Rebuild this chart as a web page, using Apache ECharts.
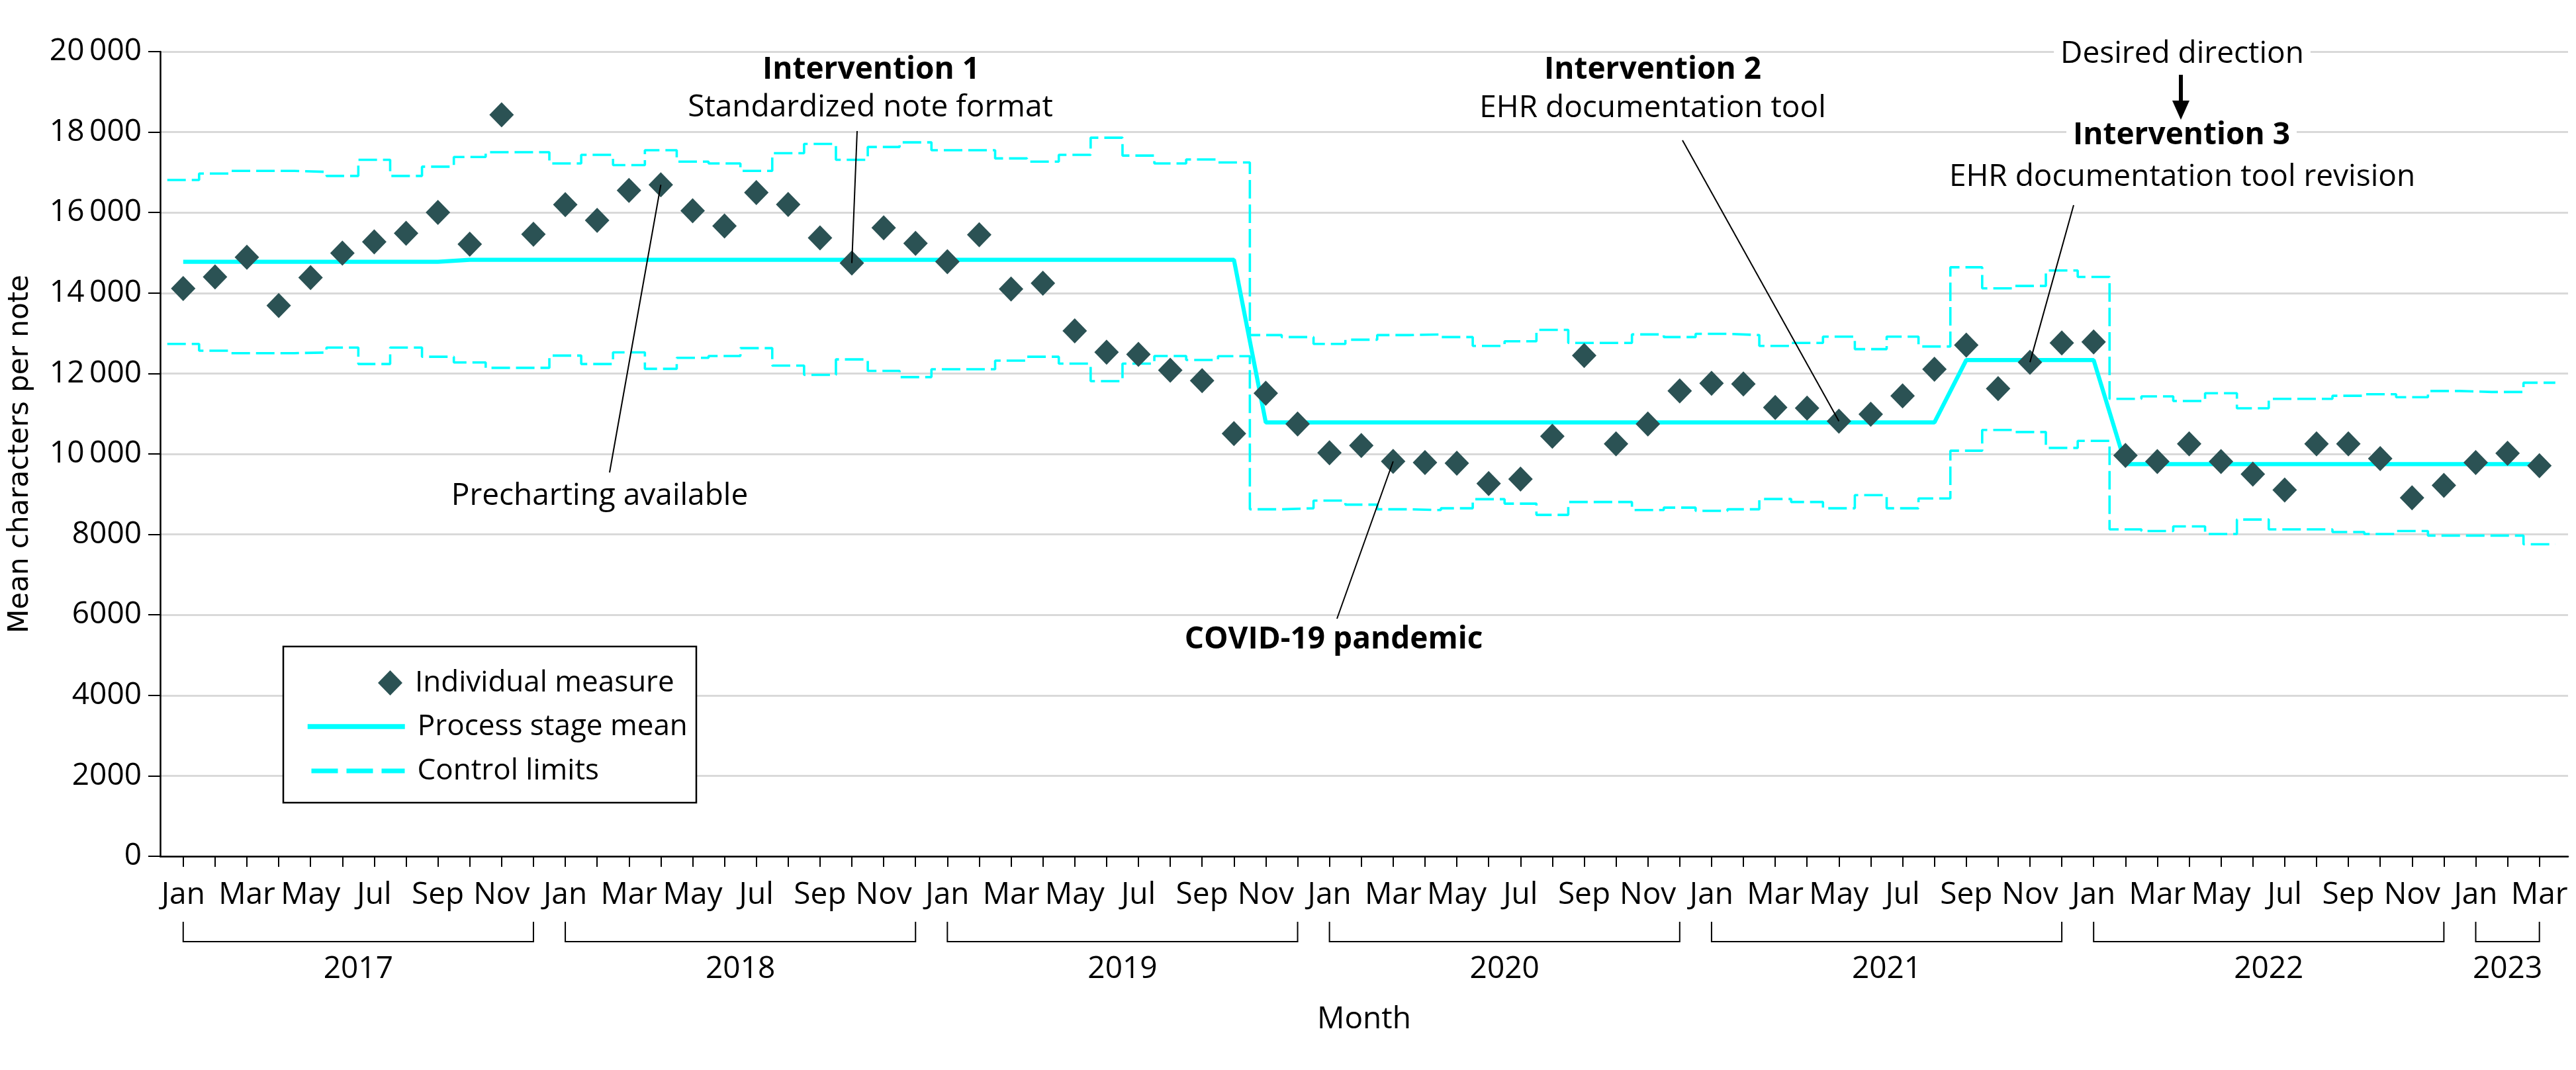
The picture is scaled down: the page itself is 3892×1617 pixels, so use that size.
<!DOCTYPE html>
<html>
<head>
<meta charset="utf-8">
<script src="https://cdn.jsdelivr.net/npm/echarts@6/dist/echarts.min.js"></script>
<style>
html,body{margin:0;padding:0;background:#fff;}
#chart{width:3892px;height:1617px;}
</style>
</head>
<body>
<div id="chart"></div>
<script>
// ---------- DATA ----------
const monthAbbr = ['Jan','Feb','Mar','Apr','May','Jun','Jul','Aug','Sep','Oct','Nov','Dec'];
const years = [2017, 2018, 2019, 2020, 2021, 2022, 2023];

const individualMeasure = [
  14110, 14400, 14890, 13690, 14385, 14990, 15270, 15485, 16005, 15215, 18430, 15460,
  16195, 15805, 16550, 16690, 16045, 15665, 16495, 16200, 15370, 14745, 15620, 15235,
  14780, 15450, 14100, 14245, 13060, 12530, 12475, 12080, 11820, 10505, 11510, 10745,
  10030, 10210,  9815,  9785,  9770,  9265,  9375, 10440, 12445, 10250, 10745, 11565,
  11755, 11740, 11155, 11140, 10815, 10985, 11445, 12105, 12705, 11625, 12280, 12760,
  12785,  9965,  9810, 10250,  9810,  9500,  9105, 10250, 10250,  9885,  8910,  9220,
   9785, 10015,  9710
];

const processStageMean = [
  14777, 14777, 14777, 14777, 14777, 14777, 14777, 14777, 14777, 14824, 14824, 14824,
  14824, 14824, 14824, 14824, 14824, 14824, 14824, 14824, 14824, 14824, 14824, 14824,
  14824, 14824, 14824, 14824, 14824, 14824, 14824, 14824, 14824, 14824, 10782, 10782,
  10782, 10782, 10782, 10782, 10782, 10782, 10782, 10782, 10782, 10782, 10782, 10782,
  10782, 10782, 10782, 10782, 10782, 10782, 10782, 10782, 12335, 12335, 12335, 12335,
  12335,  9746,  9746,  9746,  9746,  9746,  9746,  9746,  9746,  9746,  9746,  9746,
   9746,  9746,  9746
];

const upperControlLimit = [
  16810, 16970, 17035, 17035, 17010, 16910, 17310, 16910, 17140, 17380, 17500, 17500,
  17220, 17435, 17180, 17550, 17265, 17220, 17035, 17475, 17705, 17310, 17630, 17745,
  17550, 17550, 17345, 17265, 17435, 17860, 17415, 17220, 17320, 17245, 12955, 12905,
  12735, 12840, 12955, 12970, 12905, 12685, 12800, 13085, 12760, 12760, 12970, 12905,
  12985, 12955, 12685, 12760, 12915, 12605, 12915, 12670, 14640, 14115, 14175, 14560,
  14400, 11370, 11430, 11315, 11510, 11135, 11370, 11370, 11445, 11485, 11410, 11565,
  11540, 11540, 11770
];

const lowerControlLimit = [
  12735, 12565, 12505, 12505, 12520, 12645, 12235, 12645, 12415, 12275, 12140, 12140,
  12445, 12235, 12525, 12115, 12390, 12435, 12630, 12195, 11965, 12350, 12065, 11910,
  12105, 12105, 12320, 12415, 12245, 11810, 12245, 12435, 12335, 12430,  8625,  8650,
   8840,  8740,  8625,  8605,  8650,  8875,  8765,  8485,  8805,  8805,  8605,  8665,
   8585,  8625,  8880,  8805,  8650,  8975,  8650,  8895, 10080, 10595, 10545, 10150,
  10325,  8125,  8085,  8200,  8010,  8370,  8125,  8125,  8060,  8010,  8085,  7970,
   7970,  7970,  7755
];

const annotatedMonth = {
  precharting: 'Apr 2018',
  intervention1: 'Oct 2018',
  covid: 'Mar 2020',
  intervention2: 'May 2021',
  intervention3: 'Nov 2021'
};

// ---------- DERIVED ----------
const months = individualMeasure.map((_, i) => monthAbbr[i % 12] + ' ' + (years[0] + Math.floor(i / 12)));
const monthIdx = name => months.indexOf(name);
const yearSpans = years.map(y => {
  const ids = months.map((m, i) => m.endsWith(' ' + y) ? i : -1).filter(i => i >= 0);
  return { label: String(y), start: ids[0], end: ids[ids.length - 1] };
});
const stepData = arr => arr.flatMap((v, i) => [[i - 0.5, v], [i + 0.5, v]]);
const pointOf = name => { const i = monthIdx(name); return [i, individualMeasure[i]]; };

// ---------- STYLE ----------
const FONT = '"Open Sans", "Noto Sans", sans-serif';
const CYAN = '#00ffff';
const DOT = '#2b5254';

const chart = echarts.init(document.getElementById('chart'), null, { renderer: 'canvas' });

const leader = (x, y, name) => [{ x: x, y: y }, { coord: pointOf(name) }];

const txt = (text, x, y, bold, bg) => ({
  type: 'text', x: x, y: y, z: 10,
  style: Object.assign({
    text: text,
    font: (bold ? 'bold ' : '') + '46px ' + FONT,
    fill: '#000', align: 'center', verticalAlign: 'middle'
  }, bg ? { backgroundColor: '#fff', padding: [2, 10, 2, 10] } : {})
});

const legendText = { fontSize: 44, color: '#000', fontFamily: FONT, padding: [0, 0, 0, 14] };

const option = {
  animation: false,
  backgroundColor: '#fff',
  textStyle: { fontFamily: FONT },
  grid: { left: 242, right: 12, top: 78, bottom: 323, containLabel: false },
  xAxis: {
    type: 'value', min: -0.723, max: 74.9,
    name: 'Month', nameLocation: 'middle', nameGap: 224,
    nameTextStyle: { fontSize: 46, color: '#000', fontFamily: FONT },
    axisLine: { show: true, onZero: false, lineStyle: { color: '#000', width: 2.5 } },
    axisTick: { show: true, customValues: months.map((_, i) => i), length: 16, lineStyle: { color: '#000', width: 2 } },
    axisLabel: {
      show: true,
      customValues: months.map((_, i) => i).filter(i => i % 2 === 0),
      formatter: v => monthAbbr[Math.round(v) % 12],
      fontSize: 46, color: '#000', margin: 36, fontFamily: FONT
    },
    splitLine: { show: false }
  },
  yAxis: {
    type: 'value', min: 0, max: 20000, interval: 2000,
    name: 'Mean characters per note', nameLocation: 'middle', nameRotate: 90, nameGap: 190,
    nameTextStyle: { fontSize: 42, color: '#000', fontFamily: '"DejaVu Sans", sans-serif' },
    axisLine: { show: true, onZero: false, lineStyle: { color: '#000', width: 2.5 } },
    axisTick: { show: true, length: 18, lineStyle: { color: '#000', width: 2 } },
    axisLabel: {
      fontSize: 46, color: '#000', margin: 28, fontFamily: FONT,
      formatter: v => v >= 10000 ? Math.floor(v / 1000) + '\u2009' + String(v % 1000).padStart(3, '0') : String(v)
    },
    splitLine: { show: true, lineStyle: { color: '#d9d9d9', width: 3 } }
  },
  legend: [
    {
      data: ['Individual measure'], left: 571, top: 1010, padding: 0,
      itemWidth: 37, itemHeight: 38, selectedMode: false,
      textStyle: legendText
    },
    {
      data: ['Process stage mean'], left: 461, top: 1076, padding: 0,
      itemWidth: 147, itemHeight: 38, selectedMode: false,
      itemStyle: { opacity: 0, color: 'transparent', borderWidth: 0 },
      lineStyle: { width: 7.5, color: CYAN, opacity: 1 },
      textStyle: legendText
    },
    {
      data: ['Control limits'], left: 467, top: 1143, padding: 0,
      itemWidth: 141, itemHeight: 38, selectedMode: false,
      itemStyle: { opacity: 0, color: 'transparent', borderWidth: 0 },
      lineStyle: { width: 7, color: CYAN, opacity: 1, type: [40, 13] },
      textStyle: legendText
    }
  ],
  series: [
    {
      name: 'Control limits', type: 'line', data: stepData(upperControlLimit),
      symbol: 'none', silent: true, z: 2,
      lineStyle: { color: CYAN, width: 3.6, type: [28, 9] },
      itemStyle: { color: 'transparent', borderWidth: 0 }
    },
    {
      name: 'Control limits', type: 'line', data: stepData(lowerControlLimit),
      symbol: 'none', silent: true, z: 2,
      lineStyle: { color: CYAN, width: 3.6, type: [28, 9] },
      itemStyle: { color: 'transparent', borderWidth: 0 }
    },
    {
      name: 'Process stage mean', type: 'line', data: processStageMean.map((v, i) => [i, v]),
      symbol: 'none', silent: true, z: 3,
      lineStyle: { color: CYAN, width: 6.2 },
      itemStyle: { color: 'transparent', borderWidth: 0 }
    },
    {
      name: 'Individual measure', type: 'scatter', data: individualMeasure.map((v, i) => [i, v]),
      symbol: 'diamond', symbolSize: [37, 38], z: 4,
      itemStyle: { color: DOT, opacity: 1 },
      markLine: {
        silent: true, symbol: ['none', 'none'], animation: false,
        label: { show: false },
        lineStyle: { color: '#000', width: 2, type: 'solid' },
        emphasis: { disabled: true },
        data: [
          leader(921, 714, annotatedMonth.precharting),
          leader(1295, 198, annotatedMonth.intervention1),
          leader(2020, 935, annotatedMonth.covid),
          leader(2542, 212, annotatedMonth.intervention2),
          leader(3133, 310, annotatedMonth.intervention3)
        ]
      }
    },
    {
      type: 'custom', silent: true, clip: false, z: 1,
      data: yearSpans.map(s => [s.start, s.end]),
      encode: { x: [0, 1] },
      renderItem: (params, api) => {
        const span = yearSpans[params.dataIndex];
        const a = api.coord([span.start, 0]);
        const b = api.coord([span.end, 0]);
        const y0 = a[1] + 99, y1 = a[1] + 129;
        return {
          type: 'group',
          children: [
            { type: 'polyline', shape: { points: [[a[0], y0], [a[0], y1], [b[0], y1], [b[0], y0]] },
              style: { stroke: '#000', lineWidth: 2, fill: null } },
            { type: 'text', style: { text: span.label, x: (a[0] + b[0]) / 2, y: a[1] + 171,
              align: 'center', verticalAlign: 'middle', font: '46px ' + FONT, fill: '#000' } }
          ]
        };
      }
    }
  ],
  graphic: [
    // gap in the 10 000 gridline at the right edge, as in the original
    { type: 'rect', z: 1, silent: true, shape: { x: 3582, y: 682, width: 300, height: 8 },
      style: { fill: '#fff' } },
    { type: 'rect', z: 1, shape: { x: 428, y: 977, width: 624, height: 236 },
      style: { fill: '#fff', stroke: '#000', lineWidth: 2.5 } },
    txt('Intervention 1', 1316, 106, true),
    txt('Standardized note format', 1315, 163, false),
    txt('Precharting available', 906, 750, false),
    txt('COVID-19 pandemic', 2015, 967, true),
    txt('Intervention 2', 2497, 106, true),
    txt('EHR documentation tool', 2497, 164, false),
    txt('Desired direction', 3297, 82, false, true),
    txt('Intervention 3', 3296, 205, true, true),
    txt('EHR documentation tool revision', 3297, 268, false),
    { type: 'line', z: 10, shape: { x1: 3295, y1: 113, x2: 3295, y2: 156 },
      style: { stroke: '#000', lineWidth: 6 } },
    { type: 'polygon', z: 10, shape: { points: [[3282, 152], [3308, 152], [3295, 181]] },
      style: { fill: '#000' } }
  ]
};

chart.setOption(option);
</script>
</body>
</html>
